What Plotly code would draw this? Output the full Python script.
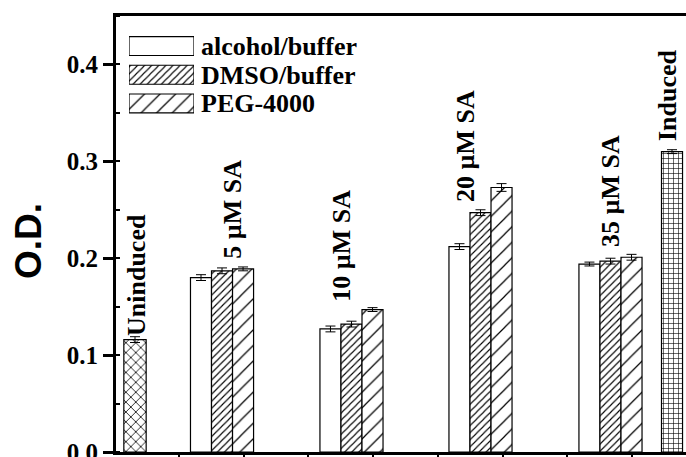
import plotly.graph_objects as go

# ---------------- data ----------------
series_names = ["alcohol/buffer", "DMSO/buffer", "PEG-4000"]
group_labels = ["5 µM SA", "10 µM SA", "20 µM SA", "35 µM SA"]
alcohol_vals = [0.180, 0.127, 0.212, 0.194]
alcohol_err = [0.003, 0.003, 0.003, 0.002]
dmso_vals = [0.187, 0.132, 0.247, 0.197]
dmso_err = [0.003, 0.003, 0.003, 0.003]
peg_vals = [0.189, 0.147, 0.273, 0.201]
peg_err = [0.002, 0.002, 0.004, 0.003]
control_labels = ["Uninduced", "Induced"]
control_vals = [0.116, 0.310]
control_err = [0.003, 0.002]
y_tick_vals = [0.0, 0.1, 0.2, 0.3, 0.4]
y_tick_text = ["0.0", "0.1", "0.2", "0.3", "0.4"]

# ---------------- layout positions (axis units) ----------------
group_x = [1.665, 3.666, 5.66, 7.669]
control_x = [0.32, 8.62]
bw = 0.325

SERIF = "Liberation Serif"
SANS = "Liberation Sans"

fig = go.Figure()

err_style = dict(type="data", thickness=1, width=5, color="black")
line_style = dict(color="black", width=1.2)

fig.add_trace(go.Bar(
    x=[g - bw for g in group_x], y=alcohol_vals, width=bw,
    error_y=dict(array=alcohol_err, **err_style),
    marker=dict(color="white", line=line_style),
    showlegend=False, hoverinfo="skip"))
fig.add_trace(go.Bar(
    x=group_x, y=dmso_vals, width=bw,
    error_y=dict(array=dmso_err, **err_style),
    marker=dict(color="white", line=line_style,
                pattern=dict(shape="/", size=5, solidity=0.22,
                             fgcolor="black", bgcolor="white")),
    showlegend=False, hoverinfo="skip"))
fig.add_trace(go.Bar(
    x=[g + bw for g in group_x], y=peg_vals, width=bw,
    error_y=dict(array=peg_err, **err_style),
    marker=dict(color="white", line=line_style,
                pattern=dict(shape="/", size=11, solidity=0.11,
                             fgcolor="black", bgcolor="white")),
    showlegend=False, hoverinfo="skip"))
fig.add_trace(go.Bar(
    x=control_x, y=control_vals, width=[bw + 0.02, bw],
    error_y=dict(array=control_err, **err_style),
    marker=dict(color="white", line=line_style,
                pattern=dict(shape=["x", "+"], size=[7, 5], solidity=0.22,
                             fgcolor="black", bgcolor="white")),
    showlegend=False, hoverinfo="skip"))

# legend swatches drawn as horizontal bars on a small overlay axis
fig.add_trace(go.Bar(
    y=[0, 1, 2], x=[1, 1, 1], base=0, orientation="h", width=0.66,
    xaxis="x2", yaxis="y2",
    marker=dict(color="white", line=dict(color="black", width=1.2),
                pattern=dict(shape=["", "/", "/"], size=[5, 5, 11],
                             solidity=[0.22, 0.22, 0.11],
                             fgcolor="black", bgcolor="white")),
    showlegend=False, hoverinfo="skip"))

W, H = 686, 457
L, R, T, B = 116, 0, 16, 5
pw, ph = W - L - R, H - T - B


def px_x(px):
    return (px - L) / pw


def px_y(py):
    return (H - B - py) / ph


annotations = []
# legend texts
for name, cy in zip(series_names, [46, 75, 103.5]):
    annotations.append(dict(
        text=name, xref="paper", yref="paper", x=px_x(199), y=px_y(cy),
        xanchor="left", yanchor="middle", showarrow=False,
        font=dict(family=SERIF, size=26, color="black", weight="bold")))

# vertical group labels
label_pos = [
    (control_labels[0], 0.351, 0.1177),
    (group_labels[0], 1.835, 0.197),
    (group_labels[1], 3.52, 0.153),
    (group_labels[2], 5.436, 0.256),
    (group_labels[3], 7.66, 0.2095),
    (control_labels[1], 8.56, 0.319),
]
for txt, lx, ly in label_pos:
    annotations.append(dict(
        text=txt, x=lx, y=ly, xref="x", yref="y", textangle=-90,
        xanchor="center", yanchor="bottom", showarrow=False,
        font=dict(family=SERIF, size=26, color="black", weight="bold")))

# y-axis title
annotations.append(dict(
    text="O.D.", xref="paper", yref="paper", x=px_x(29), y=px_y(241),
    xanchor="center", yanchor="middle", textangle=-90, showarrow=False,
    font=dict(family=SANS, size=37, color="black", weight="bold")))

fig.update_layout(
    template="none",
    width=W, height=H,
    margin=dict(l=L, r=R, t=T, b=B, autoexpand=False),
    paper_bgcolor="white", plot_bgcolor="white",
    barmode="overlay",
    hovermode=False,
    annotations=annotations,
    xaxis=dict(
        range=[(L - 179) / 64.7 + 1, (W - 179) / 64.7 + 1],
        automargin=False, layer="above traces",
        showgrid=False, zeroline=False,
        showline=True, linecolor="black", linewidth=3, mirror=True,
        tickvals=[1, 2, 3, 4, 5, 6, 7, 8], ticks="outside", ticklen=3,
        tickwidth=2, tickcolor="black", showticklabels=False),
    yaxis=dict(
        range=[0, 0.45], automargin=False, layer="above traces",
        showgrid=False, zeroline=False,
        showline=True, linecolor="black", linewidth=3, mirror=False,
        tickvals=y_tick_vals, ticktext=y_tick_text,
        ticks="outside", ticklen=10, tickwidth=3, tickcolor="black",
        ticklabeloverflow="allow",
        minor=dict(dtick=0.05, ticks="inside", ticklen=4, tickwidth=2,
                   tickcolor="black"),
        tickfont=dict(family=SERIF, size=25, color="black", weight="bold")),
    xaxis2=dict(domain=[px_x(129), px_x(194)], range=[0, 1], anchor="y2",
                visible=False),
    yaxis2=dict(domain=[px_y(103.5 + 14.35), px_y(46 - 14.35)],
                range=[2.5, -0.5], anchor="x2", visible=False),
)

fig.write_html(
    "out.html",
    config={"displayModeBar": False},
    post_script="document.body.style.margin='0';document.body.style.overflow='hidden';",
)
